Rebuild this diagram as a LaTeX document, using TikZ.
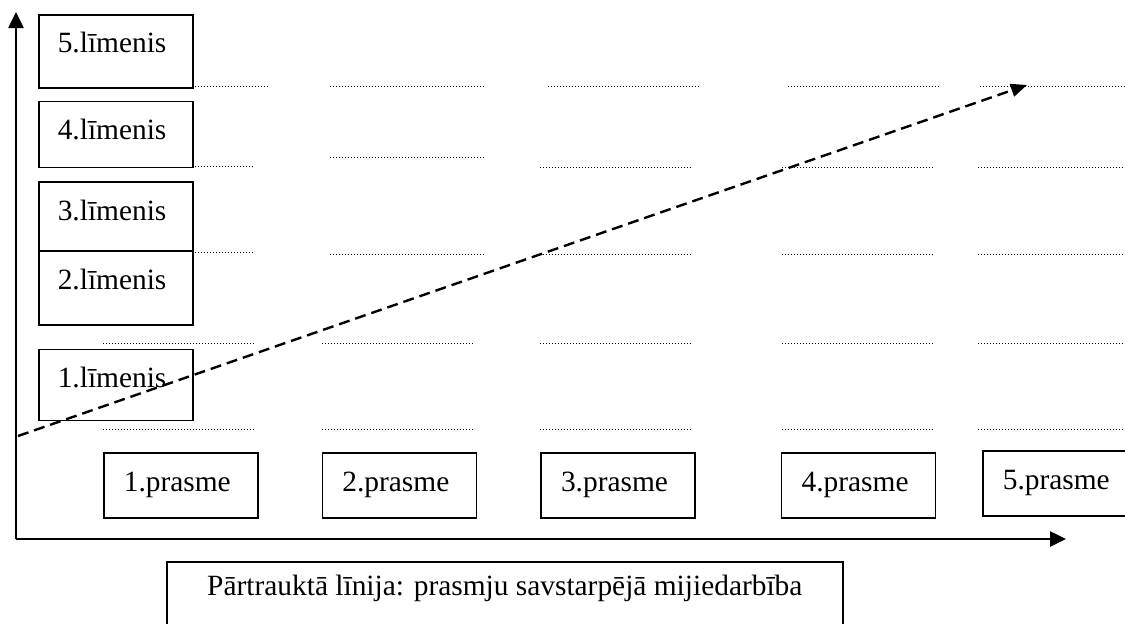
\documentclass[tikz,border=0pt]{standalone}
\usepackage{fontspec}
\setmainfont{Liberation Serif}
\usetikzlibrary{positioning,arrows.meta}

\begin{document}
\begin{tikzpicture}[x=0.5pt,y=-0.5pt,inner sep=0pt,
  font=\fontsize{14.7}{17}\selectfont,
  level/.style={draw,line width=0.8pt,text width=58pt,align=left,inner xsep=9.5pt,
    text height=19pt,text depth=#1},
  skill/.style={draw,line width=0.8pt,text width=57pt,align=left,inner xsep=10pt,
    minimum height=32.5pt},
  dotline/.style={line width=0.5pt,dash pattern=on 0.5pt off 1pt},
  axis/.style={line width=1.3pt,-{Triangle[length=8pt,width=7.5pt]}}]
  \clip (0,0) rectangle (1125,623);
  \path
  node[level=17.5pt,anchor=north west] (l5) at (38,14) {5.līmenis}
  node[level=14pt] (l4) [below=6pt of l5] {4.līmenis}
  node[level=15.5pt] (l3) [below=6.5pt of l4] {3.līmenis}
  node[level=18pt] (l2) [below=-0.8pt of l3] {2.līmenis}
  node[level=16.5pt] (l1) [below=11.5pt of l2] {1.līmenis}
  ;
  \path
  node[skill,anchor=north west] (p1) at (103,452) {1.prasme}
  node[skill] (p2) [right=31.5pt of p1] {2.prasme}
  node[skill] (p3) [right=31.5pt of p2] {3.prasme}
  node[skill] (p4) [right=42.5pt of p3] {4.prasme}
  node[skill,anchor=north west] (p5) at (982,450) {5.prasme}
  ;
  \node[draw,line width=0.8pt,anchor=north west,minimum width=338pt,
    text height=17pt,text depth=24pt] (note) at (166,561)
    {Pārtrauktā līnija: prasmju savstarpējā mijiedarbība};

  % axes
  \coordinate (o) at (16,539);
  \coordinate (ytop) at (16,12);
  \coordinate (xend) at (1066,539);
  \draw[axis] (o) -- (ytop);
  \draw[axis] (o) -- (xend);

  % dotted rows
  \draw[dotline]
  (192,86) -- (268,86) (330,86) -- (484,86) (548,86) -- (700,86) (788,86) -- (940,86) (980,86) -- (1125,86)
  (192,166) -- (254,166) (330,157) -- (484,157) (540,167) -- (692,167) (782,167) -- (934,167) (978,167) -- (1125,167)
  (192,252) -- (254,252) (330,254) -- (484,254) (540,254) -- (692,254) (782,254) -- (934,254) (978,254) -- (1125,254)
  (103,343) -- (254,343) (322,343) -- (474,343) (540,343) -- (692,343) (782,343) -- (934,343) (978,343) -- (1125,343)
  (103,429) -- (254,429) (322,429) -- (474,429) (540,429) -- (692,429) (782,429) -- (934,429) (978,429) -- (1125,429)
  ;

  % dashed arrow
  \coordinate (dstart) at (18,436);
  \coordinate (dend) at (1027,85);
  \draw[line width=1.2pt,dash pattern=on 5.5pt off 3pt,-{Triangle[length=8pt,width=6.5pt]}] (dstart) -- (dend);
\end{tikzpicture}
\end{document}
